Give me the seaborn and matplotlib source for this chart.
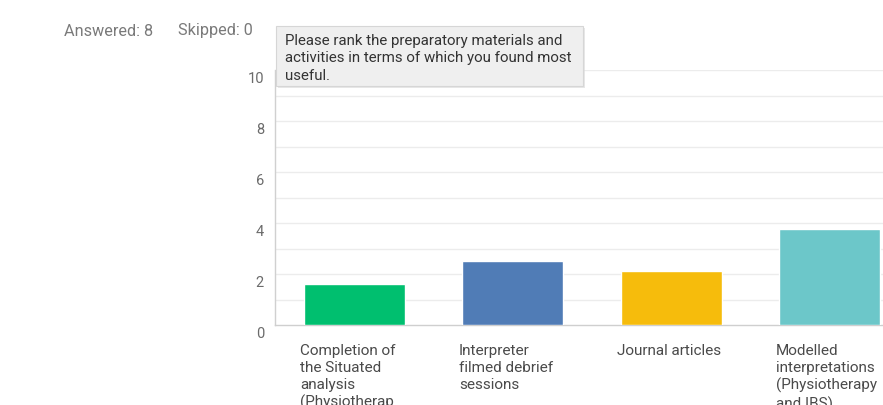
import matplotlib
matplotlib.use("Agg")
import matplotlib.pyplot as plt
import seaborn as sns
import pandas as pd
from matplotlib.patches import Rectangle
from matplotlib.transforms import blended_transform_factory, ScaledTranslation

categories = [
    "Completion of\nthe Situated\nanalysis\n(Physiotherap",
    "Interpreter\nfilmed debrief\nsessions",
    "Journal articles",
    "Modelled\ninterpretations\n(Physiotherapy\nand IBS)",
]
scores = [1.625, 2.5, 2.125, 3.75]
colors = ["#00bf6f", "#507cb6", "#f6bc0c", "#6cc7c9"]
yticks = [0, 2, 4, 6, 8, 10]
answered_text = "Answered: 8"
skipped_text = "Skipped: 0"
question = "Please rank the preparatory materials and\nactivities in terms of which you found most\nuseful."

sns.set_theme(style="white")
plt.rcParams["font.family"] = ["Roboto", "DejaVu Sans"]

W, H = 883, 406
fig = plt.figure(figsize=(W / 100, H / 100), dpi=100)
ax = fig.add_axes([275 / W, (H - 326) / H, 1 - 275 / W, (326 - 71) / H])

df = pd.DataFrame({"cat": categories, "score": scores})
sns.barplot(data=df, x="cat", y="score", hue="cat", palette=colors,
            width=0.64, legend=False, ax=ax, saturation=1, zorder=3)

ax.set_ylim(0, 10)
ax.set_xlim(-0.5, (883 - 275) / 158.5 - 0.5)
ax.set_yticks(yticks)
ax.set_yticklabels([str(t) for t in yticks], color="#6b6b6b", fontsize=10.5)
ax.tick_params(axis="y", length=0, pad=8)
off = ScaledTranslation(0, -6.5 / 100, fig.dpi_scale_trans)
for lbl in ax.get_yticklabels():
    lbl.set_transform(lbl.get_transform() + off)
ax.set_xticks([])
ax.set_xlabel("")
ax.set_ylabel("")
for v in range(1, 11):
    ax.axhline(v, color="#ececec", lw=1, zorder=1)
for s in ["top", "right"]:
    ax.spines[s].set_visible(False)
ax.spines["left"].set_color("#d0d0d0")
ax.spines["bottom"].set_color("#cfcfcf")
ax.spines["left"].set_linewidth(1)
ax.spines["bottom"].set_linewidth(1)

trans = blended_transform_factory(ax.transData, ax.transAxes)
for i, lab in enumerate(categories):
    ax.text(i - 0.34, -0.07, lab, transform=trans, ha="left", va="top",
            fontsize=11, color="#4a4a4a", linespacing=1.27, clip_on=False)

fig.text(64 / W, 1 - 31 / H, answered_text, ha="left", va="center",
         fontsize=11.7, color="#7a7a7a")
fig.text(178 / W, 1 - 31 / H, skipped_text, ha="left", va="center",
         fontsize=11.7, color="#7a7a7a")

# tooltip box
fig.patches.append(Rectangle((278 / W, 1 - 89 / H), 307 / W, 60 / H,
                             transform=fig.transFigure, facecolor="#d8d8d8",
                             edgecolor="none", alpha=0.6, zorder=9))
fig.patches.append(Rectangle((276 / W, 1 - 87 / H), 307 / W, 60 / H,
                             transform=fig.transFigure, facecolor="#efefef",
                             edgecolor="#d6d6d6", lw=0.8, zorder=10))
fig.text(285 / W, 1 - 33.5 / H, question, ha="left", va="top", fontsize=10.8,
         color="#333333", linespacing=1.36, zorder=11)

fig.savefig("out.png", dpi=100)
